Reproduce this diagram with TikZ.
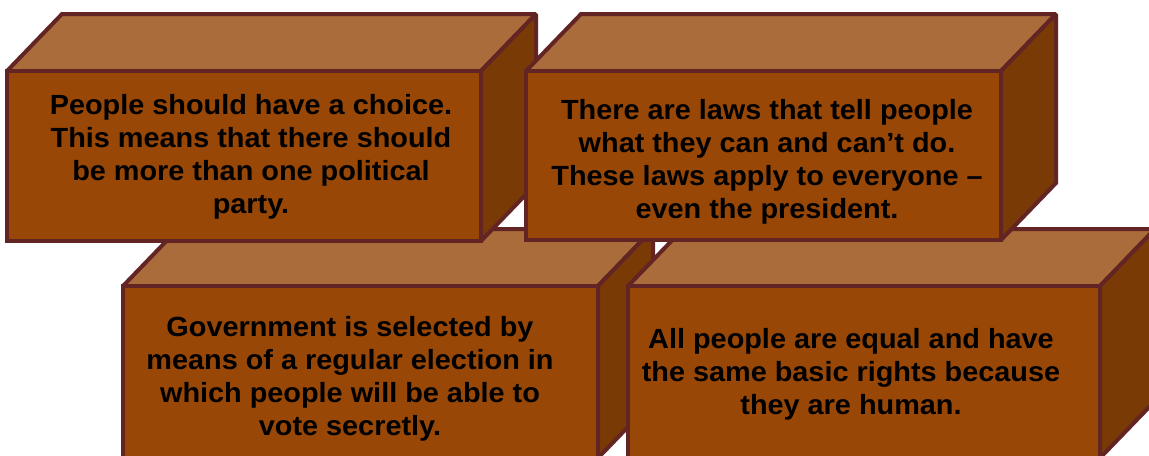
\documentclass[tikz,border=0pt]{standalone}
\usepackage{fontspec}
\newfontfamily\brickfont[FakeStretch=1.04]{Liberation Sans}
\definecolor{brickfront}{RGB}{152,71,6}
\definecolor{bricktop}{RGB}{169,108,58}
\definecolor{brickside}{RGB}{122,58,5}
\definecolor{brickline}{RGB}{99,37,35}
\begin{document}
\begin{tikzpicture}[x=0.75pt, y=-0.75pt,
  face/.style={draw=brickline, line width=3pt, miter limit=2},
  note/.style={font=\brickfont\bfseries\fontsize{20.8}{24.75}\selectfont, align=center, text=black}]
\useasboundingbox (0,0) rectangle (1149,455);
% lower left brick
\draw [face, fill=bricktop]   (123,286) -- (178,229) -- (653,229) -- (598,286) -- cycle;
\draw [face, fill=brickside]  (598,286) -- (653,229) -- (653,401) -- (598,458) -- cycle;
\draw [face, fill=brickfront] (123,286) rectangle (598,458);
% lower right brick
\draw [face, fill=bricktop]   (628,286) -- (683,229) -- (1155,229) -- (1100,286) -- cycle;
\draw [face, fill=brickside]  (1100,286) -- (1155,229) -- (1155,401) -- (1100,458) -- cycle;
\draw [face, fill=brickfront] (628,286) rectangle (1100,458);
% upper left brick
\draw [face, fill=bricktop]   (7,71) -- (62,14) -- (536,14) -- (481,71) -- cycle;
\draw [face, fill=brickside]  (481,71) -- (536,14) -- (536,184) -- (481,241) -- cycle;
\draw [face, fill=brickfront] (7,71) rectangle (481,241);
% upper right brick
\draw [face, fill=bricktop]   (526,71) -- (581,14) -- (1056,14) -- (1001,71) -- cycle;
\draw [face, fill=brickside]  (1001,71) -- (1056,14) -- (1056,183) -- (1001,240) -- cycle;
\draw [face, fill=brickfront] (526,71) rectangle (1001,240);
% texts
\node [note] (choice) at (251,157) {People should have a choice.\\This means that there should\\be more than one political\\party.};
\node [note] (laws) at (767,162) {There are laws that tell people\\what they can and can’t do.\\These laws apply to everyone –\\even the president.};
\node [note] (election) at (350,379) {Government is selected by\\means of a regular election in\\which people will be able to\\vote secretly.};
\node [note] (rights) at (851,374) {All people are equal and have\\the same basic rights because\\they are human.};
\end{tikzpicture}
\end{document}
